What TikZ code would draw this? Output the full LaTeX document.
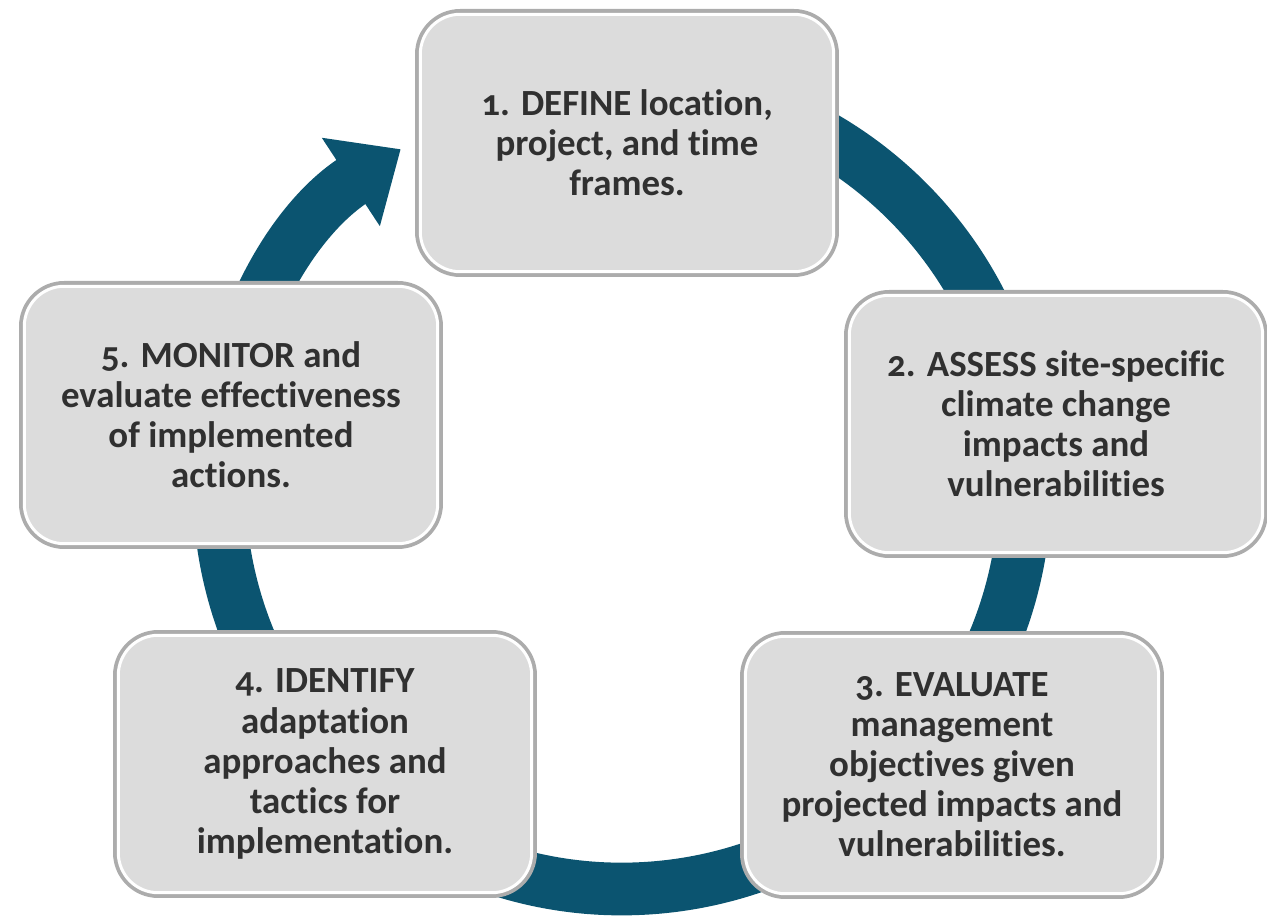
\documentclass[tikz,border=0pt]{standalone}
\usepackage{fontspec}
\setmainfont{Carlito}[Numbers=OldStyle, Ligatures=NoCommon]
\usetikzlibrary{positioning}
\usetikzlibrary{arrows.meta}
\definecolor{cycleBlue}{RGB}{11,84,112}
\definecolor{boxGray}{RGB}{220,220,220}
\definecolor{frameGray}{RGB}{172,172,172}
\definecolor{textGray}{RGB}{48,48,48}
\tikzset{%
	% Specifications for style of nodes:
	stepBox/.style = {rectangle, rounded corners=0.8cm, fill=boxGray, draw=white, line width=1.7pt,
		preaction={draw=frameGray, line width=6pt},
		minimum width=8.27cm, minimum height=5.15cm, inner sep=0pt,
		align=center, text=textGray,
		font=\fontsize{21pt}{22.8pt}\selectfont\bfseries},
	cycleArrow/.style = {draw=cycleBlue, line width=30pt, -{Triangle[width=58pt, length=34pt]}}
}

\begin{document}
\begin{tikzpicture}[x=0.02cm, y=0.02cm]
		\useasboundingbox (0,0) rectangle (1267,916);
		\coordinate (ringCenter) at (622,430);
		% the cycle runs clockwise behind the boxes
		\draw[cycleArrow] (ringCenter) ++(95:403) arc[start angle=95, end angle=-236.7, radius=403];
		\node (defineBox) [stepBox] at (627,773) {1. DEFINE location,\\ project, and time\\ frames.};
		\node (assessBox) [stepBox] at (1056,492) {2. ASSESS site-specific\\ climate change\\ impacts and\\ vulnerabilities};
		\node (evaluateBox) [stepBox] at (952,151) {3. EVALUATE\\ management\\ objectives given\\ projected impacts and\\ vulnerabilities.};
		\node (identifyBox) [stepBox] at (325,152) {4. IDENTIFY\\ adaptation\\ approaches and\\ tactics for\\ implementation.};
		\node (monitorBox) [stepBox] at (231,501) {5. MONITOR and\\ evaluate effectiveness\\ of implemented\\ actions.};
	\end{tikzpicture}
\end{document}
